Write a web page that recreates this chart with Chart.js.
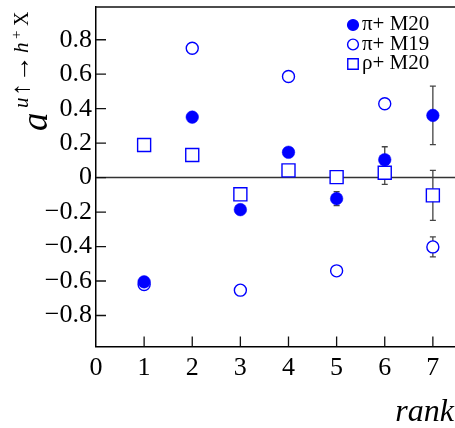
<!DOCTYPE html>
<html>
<head>
<meta charset="utf-8">
<script src="https://cdn.jsdelivr.net/npm/chart.js@4"></script>
<style>
  html, body { margin: 0; padding: 0; background: #fff; }
  .probe { font-family: "Liberation Serif"; position: absolute; left: -999px; top: 0; }
</style>
</head>
<body>
<canvas id="myChart" width="455" height="428"></canvas>
<span class="probe">0.8 <i>rank</i></span>
<script>
// values
const ranks = [1, 2, 3, 4, 5, 6, 7];
const piM20 = [-0.605, 0.351, -0.186, 0.147, -0.122, 0.104, 0.361];
const piM20Err = [0.01, 0.01, 0.015, 0.015, 0.041, 0.075, 0.17];
const piM19 = [-0.62, 0.751, -0.653, 0.587, -0.541, 0.429, -0.402];
const piM19Err = [0.01, 0.01, 0.01, 0.01, 0.01, 0.01, 0.058];
const rhoM20 = [0.189, 0.131, -0.097, 0.042, 0.003, 0.028, -0.103];
const rhoM20Err = [0.01, 0.01, 0.015, 0.015, 0.036, 0.067, 0.145];
const seriesLabels = ['π+ M20', 'π+ M19', 'ρ+ M20'];
const xTicks = [0, 1, 2, 3, 4, 5, 6, 7];
const yTicks = [-0.8, -0.6, -0.4, -0.2, 0, 0.2, 0.4, 0.6, 0.8];

const serif = '"Liberation Serif", "Times New Roman", Times, serif';
const blue = '#0000ff';

const toPoints = vals => vals.map((v, i) => ({ x: ranks[i], y: v }));

const fmtY = v => {
  if (Math.abs(v) < 1e-9) return '0';
  const s = Math.abs(v).toFixed(1);
  return v < 0 ? '\u2212' + s : s;
};

// error bars, zero line, frame and inner ticks
const decorations = {
  id: 'decorations',
  beforeDatasetsDraw(chart) {
    const { ctx, chartArea: a, scales: { x, y } } = chart;
    ctx.save();
    // zero line
    ctx.strokeStyle = '#333';
    ctx.lineWidth = 1.5;
    ctx.beginPath();
    ctx.moveTo(a.left, y.getPixelForValue(0));
    ctx.lineTo(a.right, y.getPixelForValue(0));
    ctx.stroke();
    // error bars
    ctx.strokeStyle = '#444';
    ctx.lineWidth = 1.3;
    chart.data.datasets.forEach(ds => {
      ds.data.forEach((p, i) => {
        const px = x.getPixelForValue(p.x);
        const t = y.getPixelForValue(p.y + ds.errors[i]);
        const b = y.getPixelForValue(p.y - ds.errors[i]);
        ctx.beginPath();
        ctx.moveTo(px, t); ctx.lineTo(px, b);
        ctx.moveTo(px - 3, t); ctx.lineTo(px + 3, t);
        ctx.moveTo(px - 3, b); ctx.lineTo(px + 3, b);
        ctx.stroke();
      });
    });
    ctx.restore();
  },
  afterDraw(chart) {
    const { ctx, chartArea: a, scales: { x, y } } = chart;
    ctx.save();
    ctx.strokeStyle = '#111';
    ctx.lineWidth = 1.3;
    ctx.beginPath();
    yTicks.forEach(v => {
      const py = y.getPixelForValue(v);
      ctx.moveTo(a.left, py); ctx.lineTo(a.left + 10, py);
    });
    xTicks.slice(1).forEach(v => {
      const px = x.getPixelForValue(v);
      ctx.moveTo(px, a.bottom); ctx.lineTo(px, a.bottom - 10);
    });
    ctx.stroke();
    // top frame line
    ctx.lineWidth = 1.5;
    ctx.beginPath();
    ctx.moveTo(a.left, a.top); ctx.lineTo(a.right, a.top);
    ctx.stroke();
    ctx.restore();
  }
};

// legend in the upper right corner
const cornerLegend = {
  id: 'cornerLegend',
  afterDraw(chart) {
    const ctx = chart.ctx;
    ctx.save();
    chart.data.datasets.forEach((ds, i) => {
      const cy = 25 + i * 19.5;
      const mx = 353;
      ctx.fillStyle = ds.backgroundColor;
      ctx.strokeStyle = ds.borderColor;
      ctx.lineWidth = 1.4;
      Chart.helpers.drawPoint(ctx, {
        pointStyle: ds.pointStyle,
        radius: ds.pointStyle === 'rect' ? 7.4 : 5.4,
        borderWidth: ds.pointBorderWidth,
        rotation: 0
      }, mx, cy);
      ctx.fillStyle = '#000';
      ctx.font = '21px ' + serif;
      ctx.textBaseline = 'alphabetic';
      ctx.textAlign = 'left';
      ctx.fillText(ds.label, 362, cy + 5);
    });
    ctx.restore();
  }
};

// y axis title a^{u↑→h+X}, rotated, plus the rank label
const axisTitles = {
  id: 'axisTitles',
  afterDraw(chart) {
    const ctx = chart.ctx;
    ctx.save();
    ctx.fillStyle = '#000';
    ctx.font = 'italic 32px ' + serif;
    ctx.textAlign = 'right';
    ctx.textBaseline = 'alphabetic';
    ctx.fillText('rank', 454, 421);

    ctx.translate(47, 131);
    ctx.rotate(-Math.PI / 2);
    ctx.textAlign = 'left';
    // pieces: text, font, start along the baseline, raise, width to stretch to
    const put = (txt, font, d, dy, w) => {
      ctx.font = font;
      const mw = ctx.measureText(txt).width;
      const sx = w ? w / mw : 1;
      ctx.save();
      ctx.translate(d, dy);
      ctx.scale(sx, 1);
      ctx.fillText(txt, 0, 0);
      ctx.restore();
    };
    put('a', 'italic 37px ' + serif, 0, 0);
    put('u', 'italic 21px ' + serif, 23, -19);
    put('\u2191', '26px ' + serif, 35, -18, 13);
    put('\u2192', '26px ' + serif, 49, -18, 27);
    put('h', 'italic 21px ' + serif, 78, -19);
    put('+', '15px ' + serif, 92, -26);
    put('X', '20px ' + serif, 105, -19);
    ctx.restore();
  }
};

const drawChart = () => {
  const ctx = document.getElementById('myChart').getContext('2d');
  new Chart(ctx, {
    type: 'scatter',
    data: {
      datasets: [
        {
          label: seriesLabels[0],
          data: toPoints(piM20),
          errors: piM20Err,
          pointStyle: 'circle',
          backgroundColor: blue,
          borderColor: blue,
          pointRadius: 6.3,
          pointBorderWidth: 0.5
        },
        {
          label: seriesLabels[1],
          data: toPoints(piM19),
          errors: piM19Err,
          pointStyle: 'circle',
          backgroundColor: '#fff',
          borderColor: blue,
          pointRadius: 6,
          pointBorderWidth: 1.4
        },
        {
          label: seriesLabels[2],
          data: toPoints(rhoM20),
          errors: rhoM20Err,
          pointStyle: 'rect',
          backgroundColor: '#fff',
          borderColor: blue,
          pointRadius: 9.2,
          pointBorderWidth: 1.4
        }
      ]
    },
    options: {
      responsive: false,
      animation: false,
      layout: { autoPadding: false, padding: { top: 7, right: 0, left: 0, bottom: 0 } },
      plugins: {
        legend: { display: false },
        tooltip: { enabled: false }
      },
      scales: {
        x: {
          type: 'linear',
          min: 0,
          max: 7.46,
          afterBuildTicks: s => { s.ticks = xTicks.map(v => ({ value: v })); },
          afterFit: s => { s.height = 81.5; s.paddingLeft = 0; s.paddingRight = 0; },
          grid: { display: false, drawTicks: false, tickLength: 0 },
          border: { display: true, color: '#000', width: 1.5 },
          ticks: {
            color: '#000',
            font: { family: serif, size: 26 },
            padding: 6,
            maxRotation: 0,
            autoSkip: false
          }
        },
        y: {
          type: 'linear',
          min: -0.98,
          max: 0.99,
          afterBuildTicks: s => { s.ticks = yTicks.map(v => ({ value: v })); },
          afterFit: s => { s.width = 96; s.paddingTop = 0; s.paddingBottom = 0; },
          grid: { display: false, drawTicks: false, tickLength: 0 },
          border: { display: true, color: '#000', width: 1.5 },
          ticks: {
            color: '#000',
            font: { family: serif, size: 26 },
            padding: 4,
            callback: v => fmtY(v)
          }
        }
      }
    },
    plugins: [decorations, cornerLegend, axisTitles]
  });
};

Promise.all([
  document.fonts.load('26px "Liberation Serif"'),
  document.fonts.load('italic 32px "Liberation Serif"')
]).then(drawChart, drawChart);
</script>
</body>
</html>
